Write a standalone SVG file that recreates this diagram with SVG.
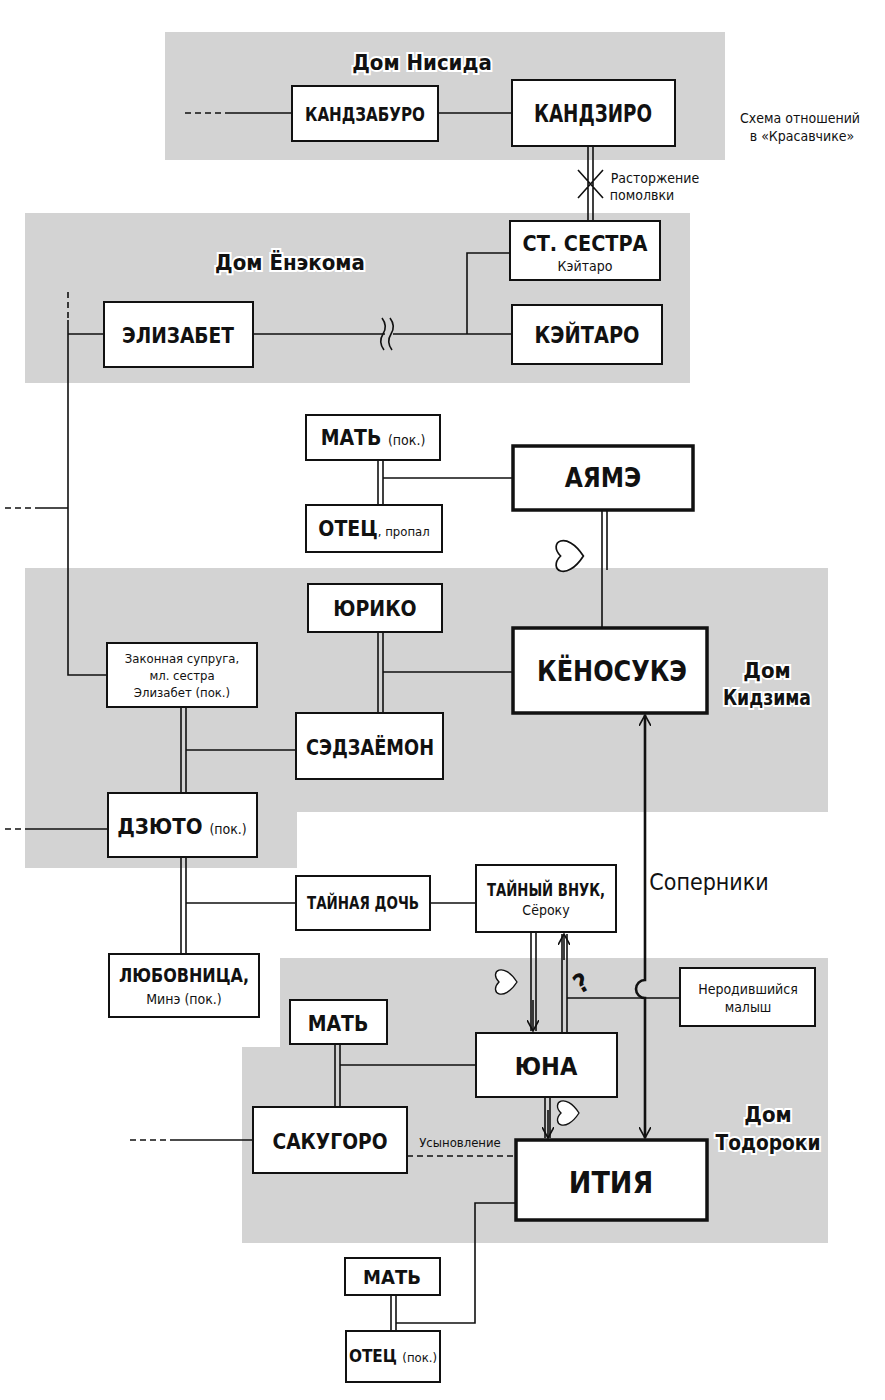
<svg xmlns="http://www.w3.org/2000/svg" width="885" height="1400" viewBox="0 0 885 1400">
<style>
.bg{fill:#d3d3d3}
.box{fill:#fff;stroke:#111;stroke-width:2}
.thick{fill:#fff;stroke:#111;stroke-width:3.5}
.ln{fill:none;stroke:#111;stroke-width:1.6}
.dl{fill:none;stroke:#111;stroke-width:1.6;stroke-dasharray:6 4}
.t{font-family:"DejaVu Sans Condensed","Liberation Sans",sans-serif;font-weight:bold;fill:#111;text-anchor:middle}
.s{font-family:"DejaVu Sans Condensed","Liberation Sans",sans-serif;fill:#111;text-anchor:middle}
.h{font-family:"DejaVu Sans Condensed","Liberation Sans",sans-serif;font-weight:bold;fill:#111;text-anchor:middle;font-size:22px;stroke:#fff;stroke-width:4;paint-order:stroke}
</style>
<defs>
<marker id="ar" viewBox="0 0 12 12" refX="11" refY="6" markerWidth="12" markerHeight="12" markerUnits="userSpaceOnUse" orient="auto-start-reverse"><path d="M0,0 L11,6 L0,12" fill="none" stroke="#111" stroke-width="1.6"/></marker>
<path id="heart" d="M0,12 C-28,-6 -14,-26 0,-12 C14,-26 28,-6 0,12 Z" fill="#fff" stroke="#111" stroke-width="1.8"/>
</defs>
<g id="backgrounds">
<rect class="bg" x="165" y="32" width="560" height="128"/>
<rect class="bg" x="25" y="213" width="665" height="170"/>
<polygon class="bg" points="25,568 828,568 828,812 297,812 297,868 25,868"/>
<polygon class="bg" points="280,958 828,958 828,1243 242,1243 242,1047 280,1047"/>
</g>
<g id="labels">
<text class="h" x="422" y="70">Дом Нисида</text>
<text class="h" x="290" y="270">Дом Ёнэкома</text>
<text class="h" x="767" y="678">Дом</text>
<text class="h" x="767" y="705" textLength="88" lengthAdjust="spacingAndGlyphs">Кидзима</text>
<text class="h" x="768" y="1122">Дом</text>
<text class="h" x="768" y="1150" textLength="105" lengthAdjust="spacingAndGlyphs">Тодороки</text>
<text class="s" x="800" y="123" font-size="14">Схема отношений</text>
<text class="s" x="802" y="141" font-size="14">в «Красавчике»</text>
<text class="s" x="655" y="183" font-size="14">Расторжение</text>
<text class="s" x="642" y="200" font-size="14">помолвки</text>
<text class="s" x="709" y="890" font-size="23">Соперники</text>
<text class="s" x="460" y="1147" font-size="13">Усыновление</text>
<text class="t" x="582" y="992" font-size="26" transform="rotate(-30 582 984)">?</text>
</g>
<g id="connectors">
<path class="dl" d="M185,113 H230" stroke-dasharray="2 3"/>
<path class="ln" d="M230,113 H292 M438,113 H512"/>
<path class="ln" d="M588,146 V221 M593,146 V221 M578,170 L603,198 M603,170 L578,198"/>
<path class="ln" d="M253,334 H385 M393,334 H512 M467,334 V253 H510"/>
<path class="ln" d="M382,318 Q388,326 383,334 Q378,342 384,350 M390,318 Q396,326 391,334 Q386,342 392,350"/>
<path class="dl" d="M68,292 V320" stroke-dasharray="4 3"/>
<path class="ln" d="M68,320 V675 H107 M68,334 H104 M40,508 H68"/>
<path class="dl" d="M5,508 H40" stroke-dasharray="3 3"/>
<path class="ln" d="M378,460 V505 M383,460 V505 M383,478 H513"/>
<path class="ln" d="M602,510 V628 M607,510 V570"/>
<path class="ln" d="M378,632 V713 M383,632 V713 M383,672 H513"/>
<path class="ln" d="M181,707 V793 M186,707 V793 M186,750 H296"/>
<path class="dl" d="M5,829 H30" stroke-dasharray="3 3"/>
<path class="ln" d="M30,829 H108"/>
<path class="ln" d="M181,857 V955 M186,857 V955 M186,903 H296 M430,903 H476"/>
<path fill="none" stroke="#111" stroke-width="2.6" d="M645,715 V980 A9,9 0 0 0 645,998 V1138" marker-start="url(#ar)" marker-end="url(#ar)"/>
<path class="ln" d="M531,932 V1031 M536,932 V1031" />
<path class="ln" d="M533,1000 V1031" marker-end="url(#ar)"/>
<path class="ln" d="M562,934 V1033 M567,934 V1033"/>
<path class="ln" d="M564,960 V934" marker-end="url(#ar)"/>
<path class="ln" d="M567,998 H680"/>
<path class="ln" d="M335,1044 V1107 M340,1044 V1107 M340,1065 H476"/>
<path class="ln" d="M545,1097 V1138 M550,1097 V1138"/>
<path class="ln" d="M548,1110 V1138" marker-end="url(#ar)"/>
<path class="dl" d="M407,1156 H516"/>
<path class="dl" d="M130,1140 H172"/>
<path class="ln" d="M172,1140 H253"/>
<path class="ln" d="M516,1203 H475 V1323 H396"/>
<path class="ln" d="M391,1295 V1331 M396,1295 V1331"/>
<use href="#heart" transform="translate(572,556) rotate(-90) scale(0.95)"/>
<use href="#heart" transform="translate(508,982) rotate(-90) scale(0.75)"/>
<use href="#heart" transform="translate(570,1113) rotate(-90) scale(0.75)"/>
</g>
<g id="n-kandzaburo"><rect class="box" x="292" y="86" width="146" height="55"/><text class="t" x="365" y="121" font-size="20" textLength="120" lengthAdjust="spacingAndGlyphs">КАНДЗАБУРО</text></g>
<g id="n-kandziro"><rect class="box" x="512" y="80" width="163" height="66"/><text class="t" x="593" y="122" font-size="24" textLength="118" lengthAdjust="spacingAndGlyphs">КАНДЗИРО</text></g>
<g id="n-sister"><rect class="box" x="510" y="221" width="150" height="59"/><text class="t" x="585" y="251" font-size="22" textLength="125" lengthAdjust="spacingAndGlyphs">СТ. СЕСТРА</text><text class="s" x="585" y="271" font-size="14">Кэйтаро</text></g>
<g id="n-keitaro"><rect class="box" x="512" y="305" width="150" height="59"/><text class="t" x="587" y="343" font-size="23" textLength="105" lengthAdjust="spacingAndGlyphs">КЭЙТАРО</text></g>
<g id="n-elizabet"><rect class="box" x="104" y="302" width="149" height="65"/><text class="t" x="178" y="343" font-size="22" textLength="112" lengthAdjust="spacingAndGlyphs">ЭЛИЗАБЕТ</text></g>
<g id="n-mat1"><rect class="box" x="306" y="415" width="134" height="45"/><text class="t" x="373" y="445" font-size="21">МАТЬ <tspan font-weight="normal" font-size="14">(пок.)</tspan></text></g>
<g id="n-otec1"><rect class="box" x="306" y="505" width="136" height="47"/><text class="t" x="374" y="536" font-size="21">ОТЕЦ<tspan font-weight="normal" font-size="13">, пропал</tspan></text></g>
<g id="n-ayame"><rect class="thick" x="513" y="446" width="180" height="64"/><text class="t" x="603" y="487" font-size="26">АЯМЭ</text></g>
<g id="n-yuriko"><rect class="box" x="308" y="584" width="134" height="48"/><text class="t" x="375" y="616" font-size="21">ЮРИКО</text></g>
<g id="n-sedzaemon"><rect class="box" x="296" y="713" width="147" height="66"/><text class="t" x="370" y="755" font-size="21" textLength="128" lengthAdjust="spacingAndGlyphs">СЭДЗАЁМОН</text></g>
<g id="n-kenosuke"><rect class="thick" x="513" y="628" width="194" height="85"/><text class="t" x="612" y="681" font-size="29" textLength="150" lengthAdjust="spacingAndGlyphs">КЁНОСУКЭ</text></g>
<g id="n-wife"><rect class="box" x="107" y="643" width="150" height="64"/><text class="s" x="182" y="663" font-size="13">Законная супруга,</text><text class="s" x="182" y="680" font-size="13">мл. сестра</text><text class="s" x="182" y="697" font-size="13">Элизабет (пок.)</text></g>
<g id="n-dzyuto"><rect class="box" x="108" y="793" width="149" height="64"/><text class="t" x="182" y="834" font-size="22">ДЗЮТО <tspan font-weight="normal" font-size="14">(пок.)</tspan></text></g>
<g id="n-lover"><rect class="box" x="109" y="954" width="150" height="63"/><text class="t" x="184" y="982" font-size="20" textLength="130" lengthAdjust="spacingAndGlyphs">ЛЮБОВНИЦА,</text><text class="s" x="184" y="1004" font-size="14">Минэ (пок.)</text></g>
<g id="n-daughter"><rect class="box" x="296" y="876" width="134" height="54"/><text class="t" x="363" y="909" font-size="17" textLength="112" lengthAdjust="spacingAndGlyphs">ТАЙНАЯ ДОЧЬ</text></g>
<g id="n-grandson"><rect class="box" x="476" y="865" width="140" height="67"/><text class="t" x="546" y="896" font-size="17" textLength="118" lengthAdjust="spacingAndGlyphs">ТАЙНЫЙ ВНУК,</text><text class="s" x="546" y="915" font-size="14">Сёроку</text></g>
<g id="n-unborn"><rect class="box" x="680" y="968" width="135" height="58"/><text class="s" x="748" y="994" font-size="14">Неродившийся</text><text class="s" x="748" y="1012" font-size="14">малыш</text></g>
<g id="n-mat2"><rect class="box" x="290" y="1000" width="97" height="44"/><text class="t" x="338" y="1031" font-size="21">МАТЬ</text></g>
<g id="n-yuna"><rect class="box" x="476" y="1033" width="141" height="64"/><text class="t" x="546" y="1075" font-size="25">ЮНА</text></g>
<g id="n-sakugoro"><rect class="box" x="253" y="1107" width="154" height="66"/><text class="t" x="330" y="1149" font-size="22" textLength="115" lengthAdjust="spacingAndGlyphs">САКУГОРО</text></g>
<g id="n-itiya"><rect class="thick" x="516" y="1140" width="191" height="80"/><text class="t" x="611" y="1193" font-size="30">ИТИЯ</text></g>
<g id="n-mat3"><rect class="box" x="345" y="1258" width="95" height="37"/><text class="t" x="392" y="1284" font-size="20">МАТЬ</text></g>
<g id="n-otec2"><rect class="box" x="346" y="1331" width="94" height="51"/><text class="t" x="393" y="1362" font-size="17">ОТЕЦ <tspan font-weight="normal" font-size="13">(пок.)</tspan></text></g>
</svg>
